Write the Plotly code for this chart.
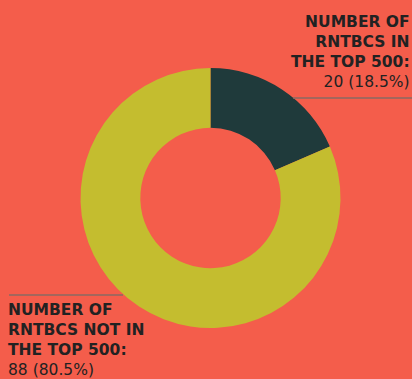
import plotly.graph_objects as go

labels = ["NUMBER OF RNTBCS IN THE TOP 500:", "NUMBER OF RNTBCS NOT IN THE TOP 500:"]
values = [20, 88]
pct_labels = ["18.5%", "80.5%"]
colors = ["#1F3A3B", "#C4BD2F"]

W, H = 412, 379
cx, cy, R = 210.5, 198, 130

fig = go.Figure(go.Pie(
    labels=labels, values=values, sort=False, direction="clockwise", rotation=0,
    hole=0.54, textinfo="none", hoverinfo="label+value",
    marker=dict(colors=colors, line=dict(width=0)),
    domain=dict(x=[(cx - R) / W, (cx + R) / W], y=[(H - cy - R) / H, (H - cy + R) / H]),
    showlegend=False,
))

font = dict(family="DejaVu Sans, sans-serif", size=15.5, color="#222222")

def px(x):
    return x / W

def py(y):
    return 1 - y / H

fig.add_annotation(
    xref="paper", yref="paper", x=px(412), y=py(11), xanchor="right", yanchor="top",
    align="right", showarrow=False, font=font,
    text="<b>NUMBER OF<br>RNTBCS IN<br>THE TOP 500:</b><br>%d (%s)" % (values[0], pct_labels[0]),
)
fig.add_annotation(
    xref="paper", yref="paper", x=px(6), y=py(299), xanchor="left", yanchor="top",
    align="left", showarrow=False, font=font,
    text="<b>NUMBER OF<br>RNTBCS NOT IN<br>THE TOP 500:</b><br>%d (%s)" % (values[1], pct_labels[1]),
)

line = dict(color="#8A6A62", width=1.5)
fig.add_shape(type="line", xref="paper", yref="paper", x0=px(293), x1=px(412), y0=py(98), y1=py(98), line=line)
fig.add_shape(type="line", xref="paper", yref="paper", x0=px(9), x1=px(123), y0=py(295), y1=py(295), line=line)

fig.update_layout(
    width=W, height=H, margin=dict(l=0, r=0, t=0, b=0),
    paper_bgcolor="#F45D4B", plot_bgcolor="#F45D4B",
)

fig.write_html("out.html", config={"displayModeBar": False})
